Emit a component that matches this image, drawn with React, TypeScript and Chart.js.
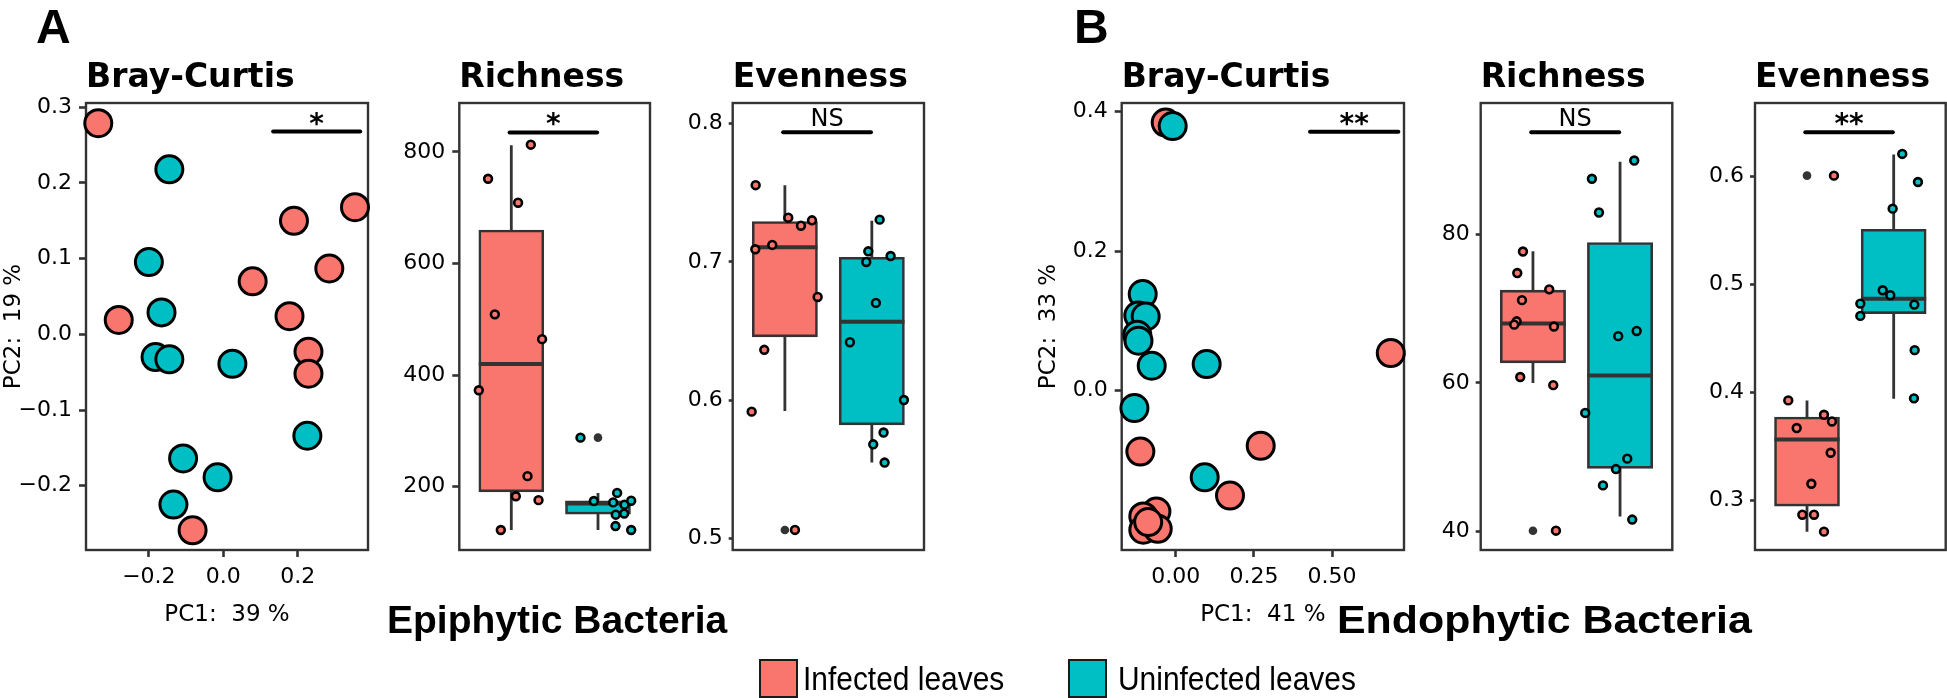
import React, { useEffect, useRef } from "react";
import { Chart, registerables } from "chart.js";

Chart.register(...registerables);

// ---------------- colours & fonts ----------------
const INFECTED_COLOR = "#F8766D";
const UNINFECTED_COLOR = "#00BFC4";
const INK = "#000000";
const FRAME = "#333333";
const SANS = "'DejaVu Sans', 'Liberation Sans', sans-serif";
const ARIAL = "'Liberation Sans', Arial, sans-serif";
const TICK_SIZE = 22;
const AXIS_TITLE_SIZE = 23;

const groupNames = ["Infected leaves", "Uninfected leaves"];

// ================= A: Epiphytic bacteria =================
// Bray-Curtis PCoA
const epiPcoaInfectedPC1 = [-0.336, 0.19, 0.354, 0.285, 0.079, -0.281, 0.178, 0.229, 0.229, -0.0825];
const epiPcoaInfectedPC2 = [0.279, 0.15, 0.168, 0.087, 0.07, 0.019, 0.024, -0.023, -0.052, -0.259];
const epiPcoaUninfectedPC1 = [-0.145, -0.2, -0.166, -0.182, -0.145, 0.0245, 0.226, -0.108, -0.0153, -0.134];
const epiPcoaUninfectedPC2 = [0.218, 0.0955, 0.029, -0.03, -0.033, -0.039, -0.134, -0.164, -0.189, -0.225];
const epiPcoaPC1Ticks = [-0.2, 0, 0.2];
const epiPcoaPC2Ticks = [-0.2, -0.1, 0, 0.1, 0.2, 0.3];
const epiPcoaSigSpan = [0.134, 0.368];
const epiPcoaSigLevel = 0.268;

// Richness
const epiRichInfected = [752, 813, 709, 509, 464.5, 373, 219, 183, 176, 122.5];
const epiRichInfectedJitter = [-0.268, 0.225, 0.078, -0.19, 0.355, -0.375, 0.187, 0.052, 0.314, -0.121];
const epiRichUninfected = [288, 174.5, 189, 172, 168, 175, 150, 152, 129.6, 122.5];
const epiRichUninfectedJitter = [-0.202, -0.048, 0.221, 0.175, 0.306, 0.383, 0.205, 0.302, 0.202, 0.383];
const epiRichQ1 = [191, 151];
const epiRichMedian = [420, 170];
const epiRichQ3 = [660, 175];
const epiRichWhiskerLow = [122.5, 122.5];
const epiRichWhiskerHigh = [812, 189];
const epiRichOutliersInfected: number[] = [];
const epiRichOutliersUninfected = [288];
const epiRichTicks = [200, 400, 600, 800];
const epiRichSigLevel = 835;

// Evenness
const epiEvenInfected = [0.7555, 0.732, 0.7262, 0.7301, 0.7092, 0.7123, 0.6747, 0.6365, 0.5918, 0.5063];
const epiEvenInfectedJitter = [-0.336, 0.039, 0.185, 0.312, -0.34, -0.145, 0.377, -0.237, -0.382, 0.116];
const epiEvenUninfected = [0.7306, 0.7077, 0.7043, 0.7, 0.6704, 0.642, 0.6002, 0.5767, 0.5682, 0.555];
const epiEvenUninfectedJitter = [0.09, -0.041, 0.216, -0.064, 0.047, -0.252, 0.369, 0.135, 0.016, 0.147];
const epiEvenQ1 = [0.6459, 0.5823];
const epiEvenMedian = [0.7107, 0.6568];
const epiEvenQ3 = [0.7292, 0.7034];
const epiEvenWhiskerLow = [0.5923, 0.555];
const epiEvenWhiskerHigh = [0.7555, 0.7298];
const epiEvenOutliersInfected = [0.5063];
const epiEvenOutliersUninfected: number[] = [];
const epiEvenTicks = [0.5, 0.6, 0.7, 0.8];
const epiEvenSigLevel = 0.7937;

// ================= B: Endophytic bacteria =================
// Bray-Curtis PCoA
const endoPcoaInfectedPC1 = [-0.032, 0.6877, -0.113, 0.2718, 0.1736, -0.0617, -0.1036, -0.1036, -0.0575, -0.088];
const endoPcoaInfectedPC2 = [0.384, 0.054, -0.087, -0.0788, -0.15, -0.173, -0.18, -0.199, -0.1977, -0.188];
const endoPcoaUninfectedPC1 = [-0.0096, -0.1055, -0.1196, -0.096, -0.1228, -0.119, -0.0767, 0.099, -0.132, 0.0927];
const endoPcoaUninfectedPC2 = [0.379, 0.1384, 0.1077, 0.1063, 0.0802, 0.0716, 0.0358, 0.0382, -0.0248, -0.124];
const endoPcoaPC1Ticks = [0, 0.25, 0.5];
const endoPcoaPC2Ticks = [0, 0.2, 0.4];
const endoPcoaSigSpan = [0.4295, 0.712];
const endoPcoaSigLevel = 0.371;

// Richness
const endoRichInfected = [77.7, 74.8, 72.6, 71.15, 68.3, 67.85, 67.6, 60.8, 59.7, 40.1];
const endoRichInfectedJitter = [-0.115, -0.18, 0.187, -0.126, -0.187, -0.215, 0.241, -0.146, 0.233, 0.264];
const endoRichUninfected = [89.95, 87.5, 82.96, 67.0, 66.3, 55.96, 49.8, 48.4, 46.2, 41.6];
const endoRichUninfectedJitter = [0.163, -0.323, -0.242, 0.191, -0.021, -0.4, 0.083, -0.047, -0.196, 0.14];
const endoRichQ1 = [62.7, 48.5];
const endoRichMedian = [68.0, 61.0];
const endoRichQ3 = [72.5, 78.9];
const endoRichWhiskerLow = [60.0, 42.0];
const endoRichWhiskerHigh = [77.75, 89.8];
const endoRichOutliersInfected = [40.1];
const endoRichOutliersUninfected: number[] = [];
const endoRichTicks = [40, 60, 80];
const endoRichSigLevel = 93.76;

// Evenness
const endoEvenInfected = [0.6006, 0.3923, 0.379, 0.3728, 0.3667, 0.3438, 0.3151, 0.2864, 0.2864, 0.2707];
const endoEvenInfectedJitter = [0.311, -0.216, 0.196, 0.288, -0.119, 0.273, 0.05, -0.054, 0.081, 0.196];
const endoEvenUninfected = [0.6207, 0.5947, 0.57, 0.4944, 0.4898, 0.482, 0.4811, 0.4706, 0.4389, 0.3942];
const endoEvenUninfectedJitter = [0.099, 0.28, -0.012, -0.127, -0.039, -0.385, 0.238, -0.385, 0.242, 0.234];
const endoEvenQ1 = [0.2944, 0.4728];
const endoEvenMedian = [0.356, 0.4864];
const endoEvenQ3 = [0.3769, 0.5509];
const endoEvenWhiskerLow = [0.2707, 0.3938];
const endoEvenWhiskerHigh = [0.3923, 0.6201];
const endoEvenOutliersInfected = [0.6006];
const endoEvenOutliersUninfected: number[] = [];
const endoEvenTicks = [0.3, 0.4, 0.5, 0.6];
const endoEvenSigLevel = 0.6407;

const boxSigSpan = [0.98, 1.99];

// ---------------- layout ----------------
const PANEL_TOP = 103;
const PANEL_BOTTOM = 550;
const CANVAS_TOP = 50;
const PCOA_CANVAS_BOTTOM = 640;
const BOX_CANVAS_BOTTOM = 580;

type Pt = { x: number; y: number | null };
const zip = (xs: number[], ys: number[]): Pt[] => xs.map((x, i) => ({ x, y: ys[i] }));
const fmt = (d: number) => (v: any) => {
  const s = Number(v).toFixed(d);
  return s.startsWith("-") ? "\u2212" + s.slice(1) : s;
};

function decorPlugin(title: string, sigSpan: number[], sigLevel: number, sigLabel: string) {
  return {
    id: "decor",
    beforeDatasetsDraw(chart: any) {
      const { ctx, chartArea: a } = chart;
      ctx.save();
      ctx.strokeStyle = FRAME;
      ctx.lineWidth = 2.4;
      ctx.strokeRect(a.left, a.top, a.right - a.left, a.bottom - a.top);
      ctx.restore();
    },
    afterDraw(chart: any) {
      const { ctx, chartArea: a, scales } = chart;
      ctx.save();
      ctx.fillStyle = INK;
      ctx.textAlign = "left";
      ctx.textBaseline = "alphabetic";
      ctx.font = `bold 33px ${SANS}`;
      ctx.fillText(title, a.left, 87 - CANVAS_TOP);
      const xm = scales.x.getPixelForValue((sigSpan[0] + sigSpan[1]) / 2);
      const yl = scales.y.getPixelForValue(sigLevel);
      ctx.textAlign = "center";
      if (sigLabel === "NS") {
        ctx.font = `24px ${SANS}`;
        ctx.fillText(sigLabel, xm, yl - 6);
      } else {
        ctx.font = `bold 28px ${SANS}`;
        ctx.fillText(sigLabel, xm, yl + 1);
      }
      ctx.restore();
    },
  };
}

function axisY(min: number, max: number, ticks: number[], dec: number, width: number, tickLen: number, pad: number, title?: string) {
  return {
    type: "linear",
    position: "left",
    min,
    max,
    offset: false,
    afterBuildTicks: (s: any) => {
      s.ticks = ticks.map((v) => ({ value: v }));
    },
    afterFit: (s: any) => {
      s.width = width;
      s.paddingTop = 0;
      s.paddingBottom = 0;
    },
    ticks: { callback: fmt(dec), font: { family: SANS, size: TICK_SIZE }, color: INK, padding: pad, autoSkip: false },
    grid: { display: true, drawOnChartArea: false, drawTicks: true, tickLength: tickLen, tickColor: FRAME, tickWidth: 2.6 },
    border: { display: false },
    title: title
      ? { display: true, text: title, font: { family: SANS, size: AXIS_TITLE_SIZE }, color: INK, padding: { top: 0, bottom: 0 } }
      : { display: false },
  };
}

type PcoaSpec = {
  title: string; L: number; R: number; canvasLeft: number;
  ix: number[]; iy: number[]; ux: number[]; uy: number[];
  xMin: number; xMax: number; yMin: number; yMax: number;
  xTicks: number[]; yTicks: number[]; xDec: number; yDec: number;
  xTitle: string; yTitle: string; sigSpan: number[]; sigLevel: number; sigLabel: string;
};

function pcoaConfig(p: PcoaSpec, width: number): any {
  const yW = p.L - p.canvasLeft;
  const padR = p.canvasLeft + width - p.R;
  return {
    type: "scatter",
    data: {
      datasets: [
        {
          type: "line", label: "signif", order: 0, clip: false,
          data: [{ x: p.sigSpan[0], y: p.sigLevel }, { x: p.sigSpan[1], y: p.sigLevel }],
          borderColor: INK, borderWidth: 4, pointRadius: 0, borderCapStyle: "round",
        },
        {
          label: groupNames[1], order: 1, clip: false, data: zip(p.ux, p.uy),
          pointRadius: 13.5, pointBackgroundColor: UNINFECTED_COLOR, pointBorderColor: INK, pointBorderWidth: 3,
        },
        {
          label: groupNames[0], order: 2, clip: false, data: zip(p.ix, p.iy),
          pointRadius: 13.5, pointBackgroundColor: INFECTED_COLOR, pointBorderColor: INK, pointBorderWidth: 3,
        },
      ],
    },
    options: {
      responsive: false, animation: false, events: [],
      layout: { autoPadding: false, padding: { top: PANEL_TOP - CANVAS_TOP, right: padR, bottom: 0, left: 0 } },
      plugins: { legend: { display: false }, tooltip: { enabled: false } },
      scales: {
        x: {
          type: "linear", position: "bottom", min: p.xMin, max: p.xMax, offset: false,
          afterBuildTicks: (s: any) => { s.ticks = p.xTicks.map((v) => ({ value: v })); },
          afterFit: (s: any) => {
            s.height = PCOA_CANVAS_BOTTOM - PANEL_BOTTOM;
            s.paddingLeft = 0;
            s.paddingRight = 0;
          },
          ticks: { callback: fmt(p.xDec), font: { family: SANS, size: TICK_SIZE }, color: INK, padding: 7, autoSkip: false, maxRotation: 0 },
          grid: { display: true, drawOnChartArea: false, drawTicks: true, tickLength: 7, tickColor: FRAME, tickWidth: 2.6 },
          border: { display: false },
          title: { display: true, text: p.xTitle, font: { family: SANS, size: AXIS_TITLE_SIZE }, color: INK, padding: { top: 0, bottom: 11 } },
        },
        y: axisY(p.yMin, p.yMax, p.yTicks, p.yDec, yW, 7, 7, p.yTitle),
      },
    },
    plugins: [decorPlugin(p.title, p.sigSpan, p.sigLevel, p.sigLabel)],
  };
}

type BoxSpec = {
  title: string; L: number; R: number; canvasLeft: number;
  inf: number[]; infJit: number[]; uninf: number[]; uninfJit: number[];
  q1: number[]; med: number[]; q3: number[]; lo: number[]; hi: number[];
  outInf: number[]; outUninf: number[];
  yMin: number; yMax: number; yTicks: number[]; yDec: number; tickLen: number; tickPad: number;
  sigLevel: number; sigLabel: string;
};

function boxConfig(b: BoxSpec, width: number): any {
  const yW = b.L - b.canvasLeft;
  const padR = b.canvasLeft + width - b.R;
  const unitPx = (b.R - b.L) / 2.2;
  const whiskers: Pt[] = [];
  const medians: Pt[] = [];
  [0, 1].forEach((g) => {
    const c = g + 1;
    whiskers.push({ x: c, y: b.lo[g] }, { x: c, y: b.q1[g] }, { x: c, y: null }, { x: c, y: b.q3[g] }, { x: c, y: b.hi[g] }, { x: c, y: null });
    medians.push({ x: c - 0.375, y: b.med[g] }, { x: c + 0.375, y: b.med[g] }, { x: c + 0.5, y: null });
  });
  const outliers: Pt[] = [
    ...b.outInf.map((v) => ({ x: 1, y: v })),
    ...b.outUninf.map((v) => ({ x: 2, y: v })),
  ];
  return {
    type: "scatter",
    data: {
      datasets: [
        {
          type: "line", label: "signif", order: 0, clip: false,
          data: [{ x: boxSigSpan[0], y: b.sigLevel }, { x: boxSigSpan[1], y: b.sigLevel }],
          borderColor: INK, borderWidth: 4, pointRadius: 0, borderCapStyle: "round",
        },
        {
          label: groupNames[1], order: 1, clip: false,
          data: zip(b.uninfJit.map((j) => 2 + j), b.uninf),
          pointRadius: 3.9, pointBackgroundColor: UNINFECTED_COLOR, pointBorderColor: INK, pointBorderWidth: 2.6,
        },
        {
          label: groupNames[0], order: 1, clip: false,
          data: zip(b.infJit.map((j) => 1 + j), b.inf),
          pointRadius: 3.9, pointBackgroundColor: INFECTED_COLOR, pointBorderColor: INK, pointBorderWidth: 2.6,
        },
        {
          label: "outliers", order: 2, clip: false, data: outliers,
          pointRadius: 4.3, pointBackgroundColor: FRAME, pointBorderWidth: 0,
        },
        {
          type: "line", label: "median", order: 3, clip: false, data: medians, spanGaps: false,
          borderColor: FRAME, borderWidth: 4, pointRadius: 0,
        },
        {
          type: "bar", label: "box", order: 4, clip: false,
          data: [{ x: 1, y: [b.q1[0], b.q3[0]] }, { x: 2, y: [b.q1[1], b.q3[1]] }],
          backgroundColor: [INFECTED_COLOR, UNINFECTED_COLOR], borderColor: FRAME, borderWidth: 2.6,
          borderSkipped: false, barThickness: unitPx * 0.75, grouped: false,
        },
        {
          type: "line", label: "whiskers", order: 5, clip: false, data: whiskers, spanGaps: false,
          borderColor: FRAME, borderWidth: 2.8, pointRadius: 0,
        },
      ],
    },
    options: {
      responsive: false, animation: false, events: [],
      layout: { autoPadding: false, padding: { top: PANEL_TOP - CANVAS_TOP, right: padR, bottom: BOX_CANVAS_BOTTOM - PANEL_BOTTOM, left: 0 } },
      plugins: { legend: { display: false }, tooltip: { enabled: false } },
      scales: {
        x: { type: "linear", min: 0.4, max: 2.6, offset: false, display: false },
        y: axisY(b.yMin, b.yMax, b.yTicks, b.yDec, yW, b.tickLen, b.tickPad),
      },
    },
    plugins: [decorPlugin(b.title, boxSigSpan, b.sigLevel, b.sigLabel)],
  };
}

function ChartCanvas({ left, top, width, height, config }: { left: number; top: number; width: number; height: number; config: () => any }) {
  const ref = useRef<HTMLCanvasElement>(null);
  useEffect(() => {
    const chart = new Chart(ref.current as HTMLCanvasElement, config());
    return () => chart.destroy();
  }, []);
  return (
    <canvas
      ref={ref}
      width={width}
      height={height}
      style={{ position: "absolute", left, top, width, height }}
    />
  );
}

function Labels() {
  const ref = useRef<HTMLCanvasElement>(null);
  useEffect(() => {
    const c = ref.current as HTMLCanvasElement;
    const ctx = c.getContext("2d") as CanvasRenderingContext2D;
    ctx.clearRect(0, 0, c.width, c.height);
    ctx.fillStyle = INK;
    ctx.textBaseline = "alphabetic";
    ctx.textAlign = "left";
    ctx.font = `bold 48px ${ARIAL}`;
    ctx.fillText("A", 36, 43);
    ctx.fillText("B", 1074, 43);
    ctx.font = `bold 39px ${ARIAL}`;
    ctx.fillText("Epiphytic Bacteria", 387, 633);
    ctx.save();
    ctx.translate(1337, 633);
    ctx.scale(1.1, 1);
    ctx.fillText("Endophytic Bacteria", 0, 0);
    ctx.restore();
    // legend
    const keys = [
      { x: 760, color: INFECTED_COLOR, text: groupNames[0], tx: 803 },
      { x: 1069, color: UNINFECTED_COLOR, text: groupNames[1], tx: 1118 },
    ];
    keys.forEach((k) => {
      ctx.fillStyle = k.color;
      ctx.fillRect(k.x, 660, 37, 37);
      ctx.strokeStyle = "#1a1a1a";
      ctx.lineWidth = 2;
      ctx.strokeRect(k.x, 660, 37, 37);
      ctx.save();
      ctx.fillStyle = INK;
      ctx.translate(k.tx, 690);
      ctx.scale(0.88, 1);
      ctx.font = `34px ${ARIAL}`;
      ctx.fillText(k.text, 0, 0);
      ctx.restore();
    });
  }, []);
  return <canvas ref={ref} width={1947} height={698} style={{ position: "absolute", left: 0, top: 0 }} />;
}

const panels = [
  {
    kind: "pcoa", left: 0, width: 372,
    spec: {
      title: "Bray-Curtis", L: 86, R: 368, canvasLeft: 0,
      ix: epiPcoaInfectedPC1, iy: epiPcoaInfectedPC2, ux: epiPcoaUninfectedPC1, uy: epiPcoaUninfectedPC2,
      xMin: -0.369, xMax: 0.389, yMin: -0.285, yMax: 0.3057,
      xTicks: epiPcoaPC1Ticks, yTicks: epiPcoaPC2Ticks, xDec: 1, yDec: 1,
      xTitle: "PC1:  39 %", yTitle: "PC2:  19 %", sigSpan: epiPcoaSigSpan, sigLevel: epiPcoaSigLevel, sigLabel: "*",
    },
  },
  {
    kind: "box", left: 379, width: 276,
    spec: {
      title: "Richness", L: 459.3, R: 650, canvasLeft: 379,
      inf: epiRichInfected, infJit: epiRichInfectedJitter, uninf: epiRichUninfected, uninfJit: epiRichUninfectedJitter,
      q1: epiRichQ1, med: epiRichMedian, q3: epiRichQ3, lo: epiRichWhiskerLow, hi: epiRichWhiskerHigh,
      outInf: epiRichOutliersInfected, outUninf: epiRichOutliersUninfected,
      yMin: 86.7, yMax: 887.7, yTicks: epiRichTicks, yDec: 0, tickLen: 7, tickPad: 7,
      sigLevel: epiRichSigLevel, sigLabel: "*",
    },
  },
  {
    kind: "box", left: 652, width: 277,
    spec: {
      title: "Evenness", L: 732.7, R: 924, canvasLeft: 652,
      inf: epiEvenInfected, infJit: epiEvenInfectedJitter, uninf: epiEvenUninfected, uninfJit: epiEvenUninfectedJitter,
      q1: epiEvenQ1, med: epiEvenMedian, q3: epiEvenQ3, lo: epiEvenWhiskerLow, hi: epiEvenWhiskerHigh,
      outInf: epiEvenOutliersInfected, outUninf: epiEvenOutliersUninfected,
      yMin: 0.4918, yMax: 0.8149, yTicks: epiEvenTicks, yDec: 1, tickLen: 4, tickPad: 6,
      sigLevel: epiEvenSigLevel, sigLabel: "NS",
    },
  },
  {
    kind: "pcoa", left: 1035, width: 374,
    spec: {
      title: "Bray-Curtis", L: 1121.7, R: 1404, canvasLeft: 1035,
      ix: endoPcoaInfectedPC1, iy: endoPcoaInfectedPC2, ux: endoPcoaUninfectedPC1, uy: endoPcoaUninfectedPC2,
      xMin: -0.1727, xMax: 0.73, yMin: -0.228, yMax: 0.412,
      xTicks: endoPcoaPC1Ticks, yTicks: endoPcoaPC2Ticks, xDec: 2, yDec: 1,
      xTitle: "PC1:  41 %", yTitle: "PC2:  33 %", sigSpan: endoPcoaSigSpan, sigLevel: endoPcoaSigLevel, sigLabel: "**",
    },
  },
  {
    kind: "box", left: 1400, width: 277,
    spec: {
      title: "Richness", L: 1480.7, R: 1672.3, canvasLeft: 1400,
      inf: endoRichInfected, infJit: endoRichInfectedJitter, uninf: endoRichUninfected, uninfJit: endoRichUninfectedJitter,
      q1: endoRichQ1, med: endoRichMedian, q3: endoRichQ3, lo: endoRichWhiskerLow, hi: endoRichWhiskerHigh,
      outInf: endoRichOutliersInfected, outUninf: endoRichOutliersUninfected,
      yMin: 37.5, yMax: 97.7, yTicks: endoRichTicks, yDec: 0, tickLen: 5, tickPad: 6,
      sigLevel: endoRichSigLevel, sigLabel: "NS",
    },
  },
  {
    kind: "box", left: 1675, width: 272,
    spec: {
      title: "Evenness", L: 1755, R: 1945.7, canvasLeft: 1675,
      inf: endoEvenInfected, infJit: endoEvenInfectedJitter, uninf: endoEvenUninfected, uninfJit: endoEvenUninfectedJitter,
      q1: endoEvenQ1, med: endoEvenMedian, q3: endoEvenQ3, lo: endoEvenWhiskerLow, hi: endoEvenWhiskerHigh,
      outInf: endoEvenOutliersInfected, outUninf: endoEvenOutliersUninfected,
      yMin: 0.2537, yMax: 0.6679, yTicks: endoEvenTicks, yDec: 1, tickLen: 5, tickPad: 6,
      sigLevel: endoEvenSigLevel, sigLabel: "**",
    },
  },
];

export default function App() {
  return (
    <div style={{ position: "fixed", left: 0, top: 0, width: 1947, height: 698, overflow: "hidden", background: "#ffffff" }}>
      <Labels />
      {panels.map((p, i) => {
        const h = (p.kind === "pcoa" ? PCOA_CANVAS_BOTTOM : BOX_CANVAS_BOTTOM) - CANVAS_TOP;
        return (
          <ChartCanvas
            key={i}
            left={p.left}
            top={CANVAS_TOP}
            width={p.width}
            height={h}
            config={() => (p.kind === "pcoa" ? pcoaConfig(p.spec as PcoaSpec, p.width) : boxConfig(p.spec as BoxSpec, p.width))}
          />
        );
      })}
    </div>
  );
}
